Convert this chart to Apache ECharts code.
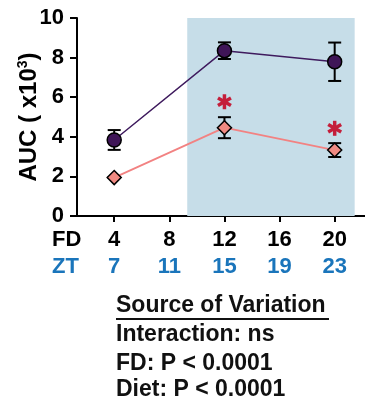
<!DOCTYPE html>
<html>
<head>
<meta charset="utf-8">
<script src="https://cdn.jsdelivr.net/npm/echarts@6/dist/echarts.min.js"></script>
<style>
  html, body { margin: 0; padding: 0; background: #fff; }
  #chart { width: 365px; height: 402px; }
</style>
</head>
<body>
<div id="chart"></div>
<script>
// FD 天数 / ZT 时间
var fdDays = [4, 8, 12, 16, 20];
var ztHours = [7, 11, 15, 19, 23];
var yTicks = [0, 2, 4, 6, 8, 10];

// 紫色组（圆点）
var chowX = [4, 12, 20];
var chowMean = [3.84, 8.35, 7.79];
var chowErr = [0.5, 0.42, 0.97];

// 粉色组（菱形）
var hfdX = [4, 12, 20];
var hfdMean = [1.94, 4.46, 3.33];
var hfdErr = [0, 0.53, 0.35];

// 星号位置
var starX = [12, 20];
var starY = [5.77, 4.43];

// 阴影区间
var shadeFrom = 9.3;
var shadeTo = 21.45;

var FONT = 'Liberation Sans';

function pairs(xs, ys) {
    var out = [];
    for (var i = 0; i < xs.length; i++) out.push([xs[i], ys[i]]);
    return out;
}
function errData(xs, ys, es) {
    var out = [];
    for (var i = 0; i < xs.length; i++) out.push([xs[i], ys[i] - es[i], ys[i] + es[i]]);
    return out;
}
function renderErr(params, api) {
    var lo = api.coord([api.value(0), api.value(1)]);
    var hi = api.coord([api.value(0), api.value(2)]);
    var w = 6.5;
    var st = { stroke: '#000', lineWidth: 2 };
    return {
        type: 'group',
        children: [
            { type: 'line', shape: { x1: lo[0], y1: lo[1], x2: hi[0], y2: hi[1] }, style: st },
            { type: 'line', shape: { x1: lo[0] - w, y1: lo[1], x2: lo[0] + w, y2: lo[1] }, style: st },
            { type: 'line', shape: { x1: hi[0] - w, y1: hi[1], x2: hi[0] + w, y2: hi[1] }, style: st }
        ]
    };
}
function renderStar(params, api) {
    var c = api.coord([api.value(0), api.value(1)]);
    var r = 7.5;
    var st = { stroke: '#c41e3a', lineWidth: 3.5 };
    var kids = [];
    for (var k = 0; k < 3; k++) {
        var a = Math.PI / 2 + k * Math.PI / 3;
        kids.push({ type: 'line', shape: {
            x1: c[0] - r * Math.cos(a), y1: c[1] - r * Math.sin(a),
            x2: c[0] + r * Math.cos(a), y2: c[1] + r * Math.sin(a)
        }, style: st });
    }
    return { type: 'group', children: kids };
}

var chart = echarts.init(document.getElementById('chart'));
var txt = 'bold 23px "Liberation Sans"';
var option = {
    animation: false,
    textStyle: { fontFamily: FONT },
    grid: { left: 77, top: 18, right: 0, bottom: 186, containLabel: false, outerBoundsMode: 'none' },
    xAxis: {
        type: 'value',
        min: 1.3,
        max: 22.2,
        splitLine: { show: false },
        axisLine: { lineStyle: { color: '#000', width: 2 } },
        axisTick: { show: true, customValues: fdDays, length: 6, lineStyle: { color: '#000', width: 2 } },
        axisLabel: {
            customValues: fdDays,
            margin: 10,
            formatter: function (v) {
                var i = fdDays.indexOf(v);
                return '{fd|' + v + '}\n{zt|' + ztHours[i] + '}';
            },
            rich: {
                fd: { fontSize: 22, fontWeight: 'bold', color: '#000', lineHeight: 27, fontFamily: FONT },
                zt: { fontSize: 22, fontWeight: 'bold', color: '#1a75bb', lineHeight: 27, fontFamily: FONT }
            }
        }
    },
    yAxis: {
        type: 'value',
        min: 0,
        max: 10,
        interval: 2,
        splitLine: { show: false },
        axisLine: { show: true, lineStyle: { color: '#000', width: 2 } },
        axisTick: { show: true, length: 7, lineStyle: { color: '#000', width: 2 } },
        axisLabel: {
            margin: 13,
            fontSize: 22,
            fontWeight: 'bold',
            color: '#000',
            formatter: function (v) { return yTicks.indexOf(v) >= 0 ? String(v) : ''; }
        },
        name: 'AUC ( x10{sup|3})',
        nameLocation: 'middle',
        nameRotate: 90,
        nameGap: 35,
        nameMoveOverlap: false,
        nameTextStyle: {
            fontSize: 24,
            fontWeight: 'bold',
            color: '#000',
            fontFamily: FONT,
            rich: {
                sup: { fontSize: 14, fontWeight: 'bold', color: '#000', verticalAlign: 'top', padding: [0, 0, 12, 0], fontFamily: FONT }
            }
        }
    },
    series: [
        {
            type: 'line',
            data: [],
            silent: true,
            markArea: {
                silent: true,
                itemStyle: { color: '#c6dde8' },
                data: [[{ xAxis: shadeFrom, yAxis: 0 }, { xAxis: shadeTo, yAxis: 10 }]]
            }
        },
        {
            name: 'errChow',
            type: 'custom',
            renderItem: renderErr,
            data: errData(chowX, chowMean, chowErr),
            z: 3
        },
        {
            name: 'errHfd',
            type: 'custom',
            renderItem: renderErr,
            data: errData(hfdX, hfdMean, hfdErr),
            z: 3
        },
        {
            name: 'Chow',
            type: 'line',
            data: pairs(chowX, chowMean),
            symbol: 'circle',
            symbolSize: 14,
            lineStyle: { color: '#3f1b5e', width: 1.5 },
            itemStyle: { color: '#3f1557', borderColor: '#000', borderWidth: 1.5 },
            z: 4
        },
        {
            name: 'HFD',
            type: 'line',
            data: pairs(hfdX, hfdMean),
            symbol: 'diamond',
            symbolSize: 14,
            lineStyle: { color: '#f28282', width: 1.8 },
            itemStyle: { color: '#f08a82', borderColor: '#000', borderWidth: 1.5 },
            z: 4
        },
        {
            name: 'stars',
            type: 'custom',
            renderItem: renderStar,
            data: pairs(starX, starY),
            z: 5
        }
    ],
    graphic: [
        { type: 'text', left: 52, top: 229, style: { text: 'FD', font: 'bold 22px "Liberation Sans"', fill: '#000' } },
        { type: 'text', left: 52, top: 256, style: { text: 'ZT', font: 'bold 22px "Liberation Sans"', fill: '#1a75bb' } },
        { type: 'text', left: 116, top: 294, style: { text: 'Source of Variation', font: txt, fill: '#111' } },
        { type: 'line', shape: { x1: 116, y1: 319, x2: 329, y2: 319 }, style: { stroke: '#111', lineWidth: 1.8 } },
        { type: 'text', left: 116, top: 323, style: { text: 'Interaction: ns', font: txt, fill: '#111' } },
        { type: 'text', left: 116, top: 352, style: { text: 'FD: P < 0.0001', font: txt, fill: '#111' } },
        { type: 'text', left: 116, top: 378, style: { text: 'Diet: P < 0.0001', font: txt, fill: '#111' } }
    ]
};
chart.setOption(option);
window.onresize = chart.resize;
</script>
</body>
</html>
